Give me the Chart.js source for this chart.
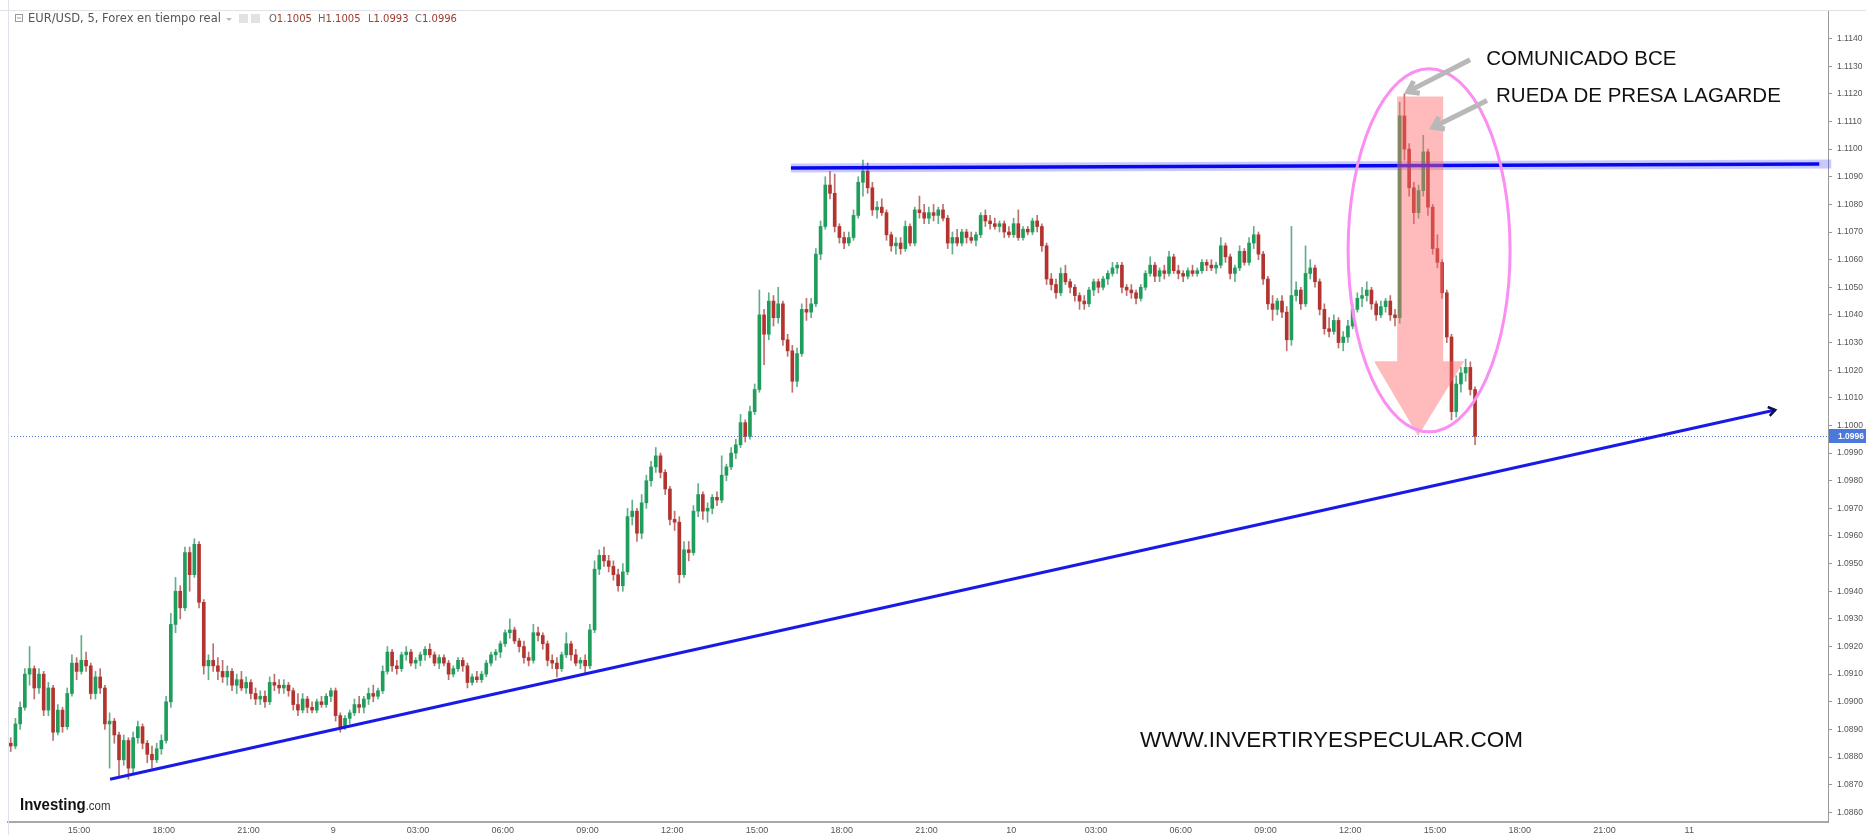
<!DOCTYPE html>
<html>
<head>
<meta charset="utf-8">
<title>EUR/USD, 5</title>
<script src="https://cdn.jsdelivr.net/npm/chart.js@4.4.1/dist/chart.umd.min.js"></script>
<style>
	html, body { margin: 0; padding: 0; background: #fff; overflow: hidden; }
	#chart { display: block; }
</style>
</head>
<body>
<canvas id="chart" width="1866" height="835"></canvas>
<script>
(function() {
	"use strict";

	// time axis is in hours from day 8, 00:00; one candle = 10 minutes
	var STEP = 10 / 60;
	var DAY8_START = 12.5;
	var DAY9_START = 24;
	var DAY10_START = 48;

	// [open, high, low, close]
	var day8 = [
		[1.0885,1.0887,1.0882,1.0884],[1.0884,1.0894,1.0883,1.0892],[1.0892,1.0900,1.0890,1.0898],
		[1.0898,1.0912,1.0897,1.0910],[1.0910,1.0920,1.0906,1.0912],[1.0912,1.0913,1.0901,1.0905],[1.0905,1.0912,1.0903,1.0910],[1.0910,1.0911,1.0895,1.0897],[1.0897,1.0907,1.0895,1.0905],
		[1.0905,1.0906,1.0886,1.0889],[1.0889,1.0899,1.0888,1.0897],[1.0897,1.0898,1.0889,1.0891],[1.0891,1.0905,1.0890,1.0903],[1.0903,1.0917,1.0902,1.0914],[1.0914,1.0916,1.0908,1.0911],
		[1.0911,1.0924,1.0910,1.0915],[1.0915,1.0918,1.0911,1.0913],[1.0913,1.0914,1.0901,1.0903],[1.0903,1.0911,1.0901,1.0909],[1.0909,1.0912,1.0903,1.0905],[1.0905,1.0906,1.0890,1.0892],
		[1.0892,1.0896,1.0876,1.0893],[1.0893,1.0894,1.0885,1.0888],[1.0888,1.0889,1.0873,1.0879],[1.0879,1.0888,1.0877,1.0886],[1.0886,1.0887,1.0872,1.0876],[1.0876,1.0889,1.0874,1.0887],
		[1.0887,1.0893,1.0885,1.0891],[1.0891,1.0892,1.0883,1.0885],[1.0885,1.0886,1.0878,1.0881],[1.0881,1.0884,1.0876,1.0879],[1.0879,1.0885,1.0878,1.0883],[1.0883,1.0888,1.0881,1.0886],
		[1.0886,1.0902,1.0885,1.0900],[1.0900,1.0932,1.0898,1.0928],[1.0928,1.0945,1.0925,1.0940],[1.0940,1.0942,1.0930,1.0934],[1.0934,1.0956,1.0933,1.0954],[1.0954,1.0956,1.0940,1.0946],
		[1.0946,1.0959,1.0945,1.0957],[1.0957,1.0958,1.0934,1.0936],[1.0936,1.0937,1.0910,1.0913],[1.0913,1.0917,1.0908,1.0915],[1.0915,1.0921,1.0911,1.0913],[1.0913,1.0916,1.0908,1.0911],
		[1.0911,1.0915,1.0907,1.0909],[1.0909,1.0913,1.0906,1.0911],[1.0911,1.0912,1.0904,1.0906],[1.0906,1.0910,1.0903,1.0908],[1.0908,1.0911,1.0904,1.0905],[1.0905,1.0909,1.0903,1.0907],
		[1.0907,1.0908,1.0901,1.0903],[1.0903,1.0905,1.0899,1.0901],[1.0901,1.0904,1.0899,1.0902],[1.0902,1.0904,1.0898,1.0900],[1.0900,1.0909,1.0899,1.0907],[1.0907,1.0910,1.0904,1.0906],
		[1.0906,1.0908,1.0903,1.0905],[1.0905,1.0908,1.0903,1.0906],[1.0906,1.0907,1.0902,1.0904],[1.0904,1.0905,1.0897,1.0899],[1.0899,1.0903,1.0895,1.0897],[1.0897,1.0903,1.0896,1.0901],
		[1.0901,1.0902,1.0896,1.0898],[1.0898,1.0900,1.0896,1.0897],[1.0897,1.0901,1.0896,1.0900],[1.0900,1.0902,1.0898,1.0899],[1.0899,1.0903,1.0898,1.0902],[1.0902,1.0905,1.0900,1.0904]
	];

	var day9 = [
		[1.0904,1.0905,1.0893,1.0895],[1.0895,1.0896,1.0889,1.0891],[1.0891,1.0895,1.0890,1.0894],[1.0894,1.0897,1.0892,1.0896],[1.0896,1.0901,1.0895,1.0899],[1.0899,1.0902,1.0896,1.0898],
		[1.0898,1.0902,1.0896,1.0901],[1.0901,1.0905,1.0899,1.0903],[1.0903,1.0906,1.0900,1.0902],[1.0902,1.0905,1.0901,1.0904],[1.0904,1.0913,1.0903,1.0911],[1.0911,1.0920,1.0910,1.0918],
		[1.0918,1.0919,1.0911,1.0913],[1.0913,1.0915,1.0910,1.0912],[1.0912,1.0918,1.0911,1.0917],[1.0917,1.0920,1.0915,1.0918],[1.0918,1.0919,1.0913,1.0914],[1.0914,1.0916,1.0912,1.0915],
		[1.0915,1.0918,1.0913,1.0917],[1.0917,1.0920,1.0915,1.0919],[1.0919,1.0921,1.0916,1.0917],[1.0917,1.0918,1.0913,1.0914],[1.0914,1.0917,1.0912,1.0916],[1.0916,1.0917,1.0913,1.0914],
		[1.0914,1.0915,1.0908,1.0910],[1.0910,1.0913,1.0909,1.0912],[1.0912,1.0916,1.0911,1.0915],[1.0915,1.0916,1.0911,1.0913],[1.0913,1.0914,1.0905,1.0907],[1.0907,1.0910,1.0906,1.0909],
		[1.0909,1.0911,1.0907,1.0908],[1.0908,1.0911,1.0907,1.0910],[1.0910,1.0915,1.0909,1.0914],[1.0914,1.0918,1.0913,1.0917],[1.0917,1.0919,1.0915,1.0918],[1.0918,1.0922,1.0916,1.0921],
		[1.0921,1.0926,1.0920,1.0925],[1.0925,1.0930,1.0923,1.0926],[1.0926,1.0927,1.0921,1.0922],[1.0922,1.0923,1.0918,1.0920],[1.0920,1.0922,1.0914,1.0916],[1.0916,1.0918,1.0913,1.0915],
		[1.0915,1.0928,1.0914,1.0925],[1.0925,1.0927,1.0922,1.0924],[1.0924,1.0925,1.0919,1.0921],[1.0921,1.0922,1.0913,1.0915],[1.0915,1.0917,1.0912,1.0914],[1.0914,1.0916,1.0909,1.0912],
		[1.0912,1.0918,1.0911,1.0917],[1.0917,1.0925,1.0916,1.0921],[1.0921,1.0922,1.0915,1.0917],[1.0917,1.0919,1.0913,1.0914],[1.0914,1.0916,1.0912,1.0915],[1.0915,1.0917,1.0910,1.0913],
		[1.0913,1.0928,1.0912,1.0926],[1.0926,1.0951,1.0925,1.0948],[1.0948,1.0955,1.0946,1.0953],[1.0953,1.0956,1.0949,1.0951],[1.0951,1.0953,1.0947,1.0949],[1.0949,1.0951,1.0944,1.0946],
		[1.0946,1.0948,1.0940,1.0942],[1.0942,1.0950,1.0940,1.0947],[1.0947,1.0970,1.0946,1.0967],[1.0967,1.0973,1.0964,1.0969],[1.0969,1.0970,1.0958,1.0961],[1.0961,1.0975,1.0959,1.0972],
		[1.0972,1.0982,1.0970,1.0980],[1.0980,1.0987,1.0978,1.0985],[1.0985,1.0992,1.0983,1.0989],[1.0989,1.0990,1.0981,1.0983],[1.0983,1.0984,1.0975,1.0977],[1.0977,1.0978,1.0964,1.0966],
		[1.0966,1.0969,1.0962,1.0965],[1.0965,1.0967,1.0943,1.0946],[1.0946,1.0958,1.0945,1.0955],[1.0955,1.0958,1.0951,1.0954],[1.0954,1.0971,1.0953,1.0969],[1.0969,1.0979,1.0967,1.0975],
		[1.0975,1.0976,1.0966,1.0969],[1.0969,1.0972,1.0965,1.0970],[1.0970,1.0975,1.0968,1.0974],[1.0974,1.0976,1.0971,1.0973],[1.0973,1.0989,1.0972,1.0982],[1.0982,1.0986,1.0980,1.0985],
		[1.0985,1.0992,1.0984,1.0990],[1.0990,1.0995,1.0988,1.0993],[1.0993,1.1004,1.0992,1.1001],[1.1001,1.1002,1.0994,1.0996],[1.0996,1.1007,1.0995,1.1005],[1.1005,1.1015,1.1004,1.1013],
		[1.1013,1.1049,1.1012,1.1040],[1.1040,1.1042,1.1022,1.1033],[1.1033,1.1048,1.1031,1.1045],[1.1045,1.1047,1.1036,1.1039],[1.1039,1.1050,1.1037,1.1044],[1.1044,1.1045,1.1029,1.1031],
		[1.1031,1.1033,1.1025,1.1027],[1.1027,1.1029,1.1012,1.1016],[1.1016,1.1028,1.1014,1.1026],[1.1026,1.1044,1.1025,1.1042],[1.1042,1.1046,1.1038,1.1041],[1.1041,1.1046,1.1039,1.1044],
		[1.1044,1.1064,1.1043,1.1062],[1.1062,1.1074,1.1060,1.1072],[1.1072,1.1090,1.1071,1.1087],[1.1087,1.1092,1.1082,1.1084],[1.1084,1.1091,1.1070,1.1072],[1.1072,1.1073,1.1066,1.1068],
		[1.1068,1.1070,1.1064,1.1066],[1.1066,1.1070,1.1065,1.1068],[1.1068,1.1078,1.1067,1.1076],[1.1076,1.1090,1.1075,1.1088],[1.1088,1.1096,1.1083,1.1092],[1.1092,1.1095,1.1084,1.1086],
		[1.1086,1.1088,1.1076,1.1078],[1.1078,1.1081,1.1075,1.1079],[1.1079,1.1082,1.1076,1.1077],[1.1077,1.1078,1.1067,1.1069],[1.1069,1.1070,1.1063,1.1065],[1.1065,1.1068,1.1062,1.1066],
		[1.1066,1.1068,1.1062,1.1064],[1.1064,1.1074,1.1063,1.1072],[1.1072,1.1073,1.1065,1.1066],[1.1066,1.1079,1.1065,1.1078],[1.1078,1.1083,1.1075,1.1077],[1.1077,1.1080,1.1073,1.1075],
		[1.1075,1.1079,1.1073,1.1077],[1.1077,1.1080,1.1074,1.1076],[1.1076,1.1079,1.1073,1.1078],[1.1078,1.1080,1.1074,1.1075],[1.1075,1.1076,1.1064,1.1066],[1.1066,1.1070,1.1062,1.1068],
		[1.1068,1.1071,1.1065,1.1066],[1.1066,1.1071,1.1065,1.1070],[1.1070,1.1071,1.1066,1.1068],[1.1068,1.1070,1.1066,1.1067],[1.1067,1.1070,1.1065,1.1069],[1.1069,1.1077,1.1068,1.1076],
		[1.1076,1.1078,1.1072,1.1074],[1.1074,1.1076,1.1071,1.1073],[1.1073,1.1075,1.1071,1.1072],[1.1072,1.1074,1.1070,1.1073],[1.1073,1.1074,1.1068,1.1070],[1.1070,1.1072,1.1068,1.1069]
	];

	var day10 = [
		[1.1069,1.1075,1.1068,1.1073],[1.1073,1.1078,1.1067,1.1068],[1.1068,1.1072,1.1067,1.1071],[1.1071,1.1072,1.1069,1.1070],[1.1070,1.1075,1.1069,1.1074],[1.1074,1.1076,1.1070,1.1072],
		[1.1072,1.1073,1.1063,1.1065],[1.1065,1.1066,1.1051,1.1053],[1.1053,1.1055,1.1049,1.1051],[1.1051,1.1053,1.1046,1.1048],[1.1048,1.1057,1.1047,1.1055],[1.1055,1.1058,1.1051,1.1052],
		[1.1052,1.1053,1.1048,1.1050],[1.1050,1.1051,1.1045,1.1047],[1.1047,1.1048,1.1042,1.1045],[1.1045,1.1047,1.1042,1.1044],[1.1044,1.1050,1.1043,1.1049],[1.1049,1.1053,1.1047,1.1052],
		[1.1052,1.1053,1.1048,1.1050],[1.1050,1.1054,1.1049,1.1053],[1.1053,1.1056,1.1051,1.1055],[1.1055,1.1059,1.1054,1.1057],[1.1057,1.1059,1.1055,1.1058],[1.1058,1.1059,1.1048,1.1050],
		[1.1050,1.1051,1.1047,1.1049],[1.1049,1.1051,1.1046,1.1048],[1.1048,1.1049,1.1044,1.1046],[1.1046,1.1051,1.1045,1.1050],[1.1050,1.1056,1.1049,1.1055],[1.1055,1.1061,1.1054,1.1058],
		[1.1058,1.1059,1.1052,1.1054],[1.1054,1.1057,1.1052,1.1056],[1.1056,1.1058,1.1053,1.1055],[1.1055,1.1063,1.1054,1.1061],[1.1061,1.1062,1.1055,1.1056],[1.1056,1.1058,1.1053,1.1055],
		[1.1055,1.1056,1.1052,1.1054],[1.1054,1.1057,1.1053,1.1056],[1.1056,1.1058,1.1054,1.1055],[1.1055,1.1057,1.1054,1.1056],[1.1056,1.1060,1.1055,1.1059],[1.1059,1.1060,1.1056,1.1058],
		[1.1058,1.1060,1.1056,1.1057],[1.1057,1.1059,1.1055,1.1058],[1.1058,1.1068,1.1057,1.1065],[1.1065,1.1066,1.1059,1.1061],[1.1061,1.1062,1.1053,1.1055],[1.1055,1.1058,1.1052,1.1057],
		[1.1057,1.1065,1.1056,1.1063],[1.1063,1.1064,1.1058,1.1059],[1.1059,1.1068,1.1058,1.1066],[1.1066,1.1072,1.1064,1.1069],[1.1069,1.1070,1.1060,1.1062],[1.1062,1.1063,1.1051,1.1053],
		[1.1053,1.1054,1.1042,1.1044],[1.1044,1.1047,1.1038,1.1042],[1.1042,1.1046,1.1040,1.1045],[1.1045,1.1047,1.1039,1.1041],[1.1041,1.1043,1.1027,1.1031],[1.1031,1.1072,1.1029,1.1047],
		[1.1047,1.1052,1.1045,1.1049],[1.1049,1.1050,1.1042,1.1044],[1.1044,1.1065,1.1043,1.1055],[1.1055,1.1060,1.1053,1.1057],[1.1057,1.1058,1.1050,1.1052],[1.1052,1.1053,1.1040,1.1042],
		[1.1042,1.1044,1.1033,1.1035],[1.1035,1.1039,1.1032,1.1034],[1.1034,1.1040,1.1033,1.1038],[1.1038,1.1039,1.1028,1.1030],[1.1030,1.1034,1.1027,1.1032],[1.1032,1.1038,1.1030,1.1036],
		[1.1036,1.1044,1.1035,1.1042],[1.1042,1.1048,1.1041,1.1046],[1.1046,1.1050,1.1043,1.1047],[1.1047,1.1052,1.1045,1.1049],[1.1049,1.1050,1.1042,1.1044],[1.1044,1.1045,1.1038,1.1040],
		[1.1040,1.1045,1.1039,1.1043],[1.1043,1.1046,1.1041,1.1045],[1.1045,1.1047,1.1038,1.1040],[1.1040,1.1042,1.1036,1.1039],[1.1039,1.1117,1.1037,1.1112],[1.1112,1.1120,1.1096,1.1100],
		[1.1100,1.1102,1.1083,1.1086],[1.1086,1.1088,1.1073,1.1077],[1.1077,1.1087,1.1075,1.1085],[1.1085,1.1105,1.1083,1.1099],[1.1099,1.1100,1.1076,1.1079],[1.1079,1.1080,1.1062,1.1064],
		[1.1064,1.1069,1.1057,1.1059],[1.1059,1.1060,1.1046,1.1048],[1.1048,1.1049,1.1030,1.1032],[1.1032,1.1033,1.1002,1.1005],[1.1005,1.1018,1.1003,1.1015],[1.1015,1.1021,1.1012,1.1019],
		[1.1019,1.1024,1.1016,1.1021],[1.1021,1.1023,1.1011,1.1013],[1.1013,1.1014,1.0993,1.0996]
	];

	var xTickPos = [15, 18, 21, 24, 27, 30, 33, 36, 39, 42, 45, 48, 51, 54, 57, 60, 63, 66, 69, 72];
	var xTickLabels = ["15:00", "18:00", "21:00", "9", "03:00", "06:00", "09:00", "12:00", "15:00", "18:00", "21:00",
		"10", "03:00", "06:00", "09:00", "12:00", "15:00", "18:00", "21:00", "11"];
	var yTicks = [1.0860, 1.0870, 1.0880, 1.0890, 1.0900, 1.0910, 1.0920, 1.0930, 1.0940, 1.0950,
		1.0960, 1.0970, 1.0980, 1.0990, 1.1000, 1.1010, 1.1020, 1.1030, 1.1040, 1.1050,
		1.1060, 1.1070, 1.1080, 1.1090, 1.1100, 1.1110, 1.1120, 1.1130, 1.1140];

	var X_MIN = 12.487, X_MAX = 76.91;
	var Y_MIN = 1.08565, Y_MAX = 1.11503;

	// drawings on the chart, in [hours, price]
	var resistance = [[40.2, 1.10932], [76.6, 1.10946]];
	var trendLine = [[16.10, 1.08720], [75.04, 1.10056]];
	var ellipse = { center: [62.79, 1.10634], rx: 2.867, ry: 0.00657 };
	var bigArrow = { left: 61.66, right: 63.29, top: 1.11190, neck: 1.10232, headLeft: 60.84, headRight: 64.03, tip: [62.40, 1.09962] };
	var greyArrows = [
		[[64.24, 1.11323], [62.04, 1.11208]],
		[[64.84, 1.11176], [62.93, 1.11079]]
	];
	var notes = [
		["COMUNICADO BCE", 64.81, 1.11323],
		["RUEDA DE PRESA LAGARDE", 65.16, 1.11190]
	];
	var watermark = ["WWW.INVERTIRYESPECULAR.COM", 52.56, 1.0886];

	var UP = "#1f9d5c", DOWN = "#b3342e";
	var UP_WICK = "rgba(31,140,85,0.7)", DOWN_WICK = "rgba(160,50,45,0.7)";

	function buildCandles() {
		var out = [];
		[[day8, DAY8_START], [day9, DAY9_START], [day10, DAY10_START]].forEach(function(d) {
			d[0].forEach(function(c, i) {
				out.push({ t: d[1] + i * STEP + STEP / 2, o: c[0], h: c[1], l: c[2], c: c[3] });
			});
		});
		return out;
	}

	function headV(ctx, x0, y0, x1, y1, size) {
		var a = Math.atan2(y1 - y0, x1 - x0);
		ctx.beginPath();
		ctx.moveTo(x1 - size * Math.cos(a - 0.6), y1 - size * Math.sin(a - 0.6));
		ctx.lineTo(x1, y1);
		ctx.lineTo(x1 - size * Math.cos(a + 0.6), y1 - size * Math.sin(a + 0.6));
		ctx.stroke();
	}

	var overlay = {
		id: "overlay",
		afterDatasetsDraw: function(chart) {
			var ctx = chart.ctx, xs = chart.scales.x, ys = chart.scales.y;
			function X(t) { return xs.getPixelForValue(t); }
			function Y(p) { return ys.getPixelForValue(p); }
			var area = chart.chartArea;
			ctx.save();

			// last price, dotted
			var last = day10[day10.length - 1][3];
			ctx.strokeStyle = "#4f74dc";
			ctx.lineWidth = 1;
			ctx.setLineDash([1, 2]);
			ctx.beginPath();
			ctx.moveTo(area.left, Math.round(Y(last)) + 0.5);
			ctx.lineTo(area.right, Math.round(Y(last)) + 0.5);
			ctx.stroke();
			ctx.setLineDash([]);

			// resistance
			ctx.lineCap = "butt";
			ctx.strokeStyle = "rgba(60,60,255,0.28)";
			ctx.lineWidth = 9;
			ctx.beginPath();
			ctx.moveTo(X(resistance[0][0]), Y(resistance[0][1]));
			ctx.lineTo(X(resistance[1][0]) + 12, Y(resistance[1][1]));
			ctx.stroke();
			ctx.strokeStyle = "#0808ee";
			ctx.lineWidth = 3.5;
			ctx.beginPath();
			ctx.moveTo(X(resistance[0][0]), Y(resistance[0][1]));
			ctx.lineTo(X(resistance[1][0]), Y(resistance[1][1]));
			ctx.stroke();

			// rising trend line
			var tx0 = X(trendLine[0][0]), ty0 = Y(trendLine[0][1]);
			var tx1 = X(trendLine[1][0]), ty1 = Y(trendLine[1][1]);
			ctx.strokeStyle = "#1a1ae6";
			ctx.lineWidth = 3;
			ctx.beginPath();
			ctx.moveTo(tx0, ty0);
			ctx.lineTo(tx1, ty1);
			ctx.stroke();
			ctx.strokeStyle = "#10104a";
			ctx.lineWidth = 2.5;
			headV(ctx, tx0, ty0, tx1, ty1, 8);

			// big translucent arrow
			ctx.fillStyle = "rgba(255,105,105,0.45)";
			ctx.beginPath();
			ctx.moveTo(X(bigArrow.left), Y(bigArrow.top));
			ctx.lineTo(X(bigArrow.right), Y(bigArrow.top));
			ctx.lineTo(X(bigArrow.right), Y(bigArrow.neck));
			ctx.lineTo(X(bigArrow.headRight), Y(bigArrow.neck));
			ctx.lineTo(X(bigArrow.tip[0]), Y(bigArrow.tip[1]));
			ctx.lineTo(X(bigArrow.headLeft), Y(bigArrow.neck));
			ctx.lineTo(X(bigArrow.left), Y(bigArrow.neck));
			ctx.closePath();
			ctx.fill();

			// ellipse
			var cx = X(ellipse.center[0]), cy = Y(ellipse.center[1]);
			ctx.strokeStyle = "#fa8ef2";
			ctx.lineWidth = 3;
			ctx.beginPath();
			ctx.ellipse(cx, cy, X(ellipse.center[0] + ellipse.rx) - cx, cy - Y(ellipse.center[1] + ellipse.ry), 0, 0, Math.PI * 2);
			ctx.stroke();

			// grey pointers
			ctx.strokeStyle = "#b8b8b8";
			ctx.lineWidth = 5;
			ctx.lineCap = "butt";
			greyArrows.forEach(function(a) {
				var x0 = X(a[0][0]), y0 = Y(a[0][1]), x1 = X(a[1][0]), y1 = Y(a[1][1]);
				ctx.beginPath();
				ctx.moveTo(x0, y0);
				ctx.lineTo(x1, y1);
				ctx.stroke();
				headV(ctx, x0, y0, x1, y1, 12);
			});

			// texts
			ctx.fillStyle = "#111";
			ctx.textBaseline = "middle";
			ctx.textAlign = "left";
			ctx.font = "20.5px 'Liberation Sans', Arial, sans-serif";
			notes.forEach(function(n) {
				ctx.fillText(n[0], X(n[1]), Y(n[2]));
			});
			ctx.font = "22.5px 'Liberation Sans', Arial, sans-serif";
			ctx.fillText(watermark[0], X(watermark[1]), Y(watermark[2]));
			ctx.restore();
		},
		afterDraw: function(chart) {
			var ctx = chart.ctx, area = chart.chartArea, ys = chart.scales.y;
			ctx.save();

			// frame
			ctx.strokeStyle = "#dfe2ea";
			ctx.lineWidth = 1;
			ctx.beginPath();
			ctx.moveTo(area.left + 0.5, 0);
			ctx.lineTo(area.left + 0.5, chart.height);
			ctx.moveTo(0, area.top + 0.5);
			ctx.lineTo(chart.width, area.top + 0.5);
			ctx.stroke();

			// last price tag
			var last = day10[day10.length - 1][3];
			var py = Math.round(ys.getPixelForValue(last));
			ctx.fillStyle = "#4a78dc";
			ctx.fillRect(area.right + 1, py - 7, chart.width - area.right - 1, 14);
			ctx.fillStyle = "#fff";
			ctx.font = "bold 8.5px 'Liberation Sans', Arial, sans-serif";
			ctx.textBaseline = "middle";
			ctx.fillText(last.toFixed(4), area.right + 10, py + 0.5);

			// legend line at the top
			ctx.strokeStyle = "#999";
			ctx.strokeRect(15.5, 14.5, 7, 7);
			ctx.beginPath();
			ctx.moveTo(17, 18);
			ctx.lineTo(21, 18);
			ctx.stroke();
			ctx.font = "11.5px 'DejaVu Sans', Verdana, sans-serif";
			ctx.fillStyle = "#555";
			ctx.fillText("EUR/USD, 5, Forex en tiempo real", 28, 19);
			ctx.fillStyle = "#bbb";
			ctx.beginPath();
			ctx.moveTo(226, 18);
			ctx.lineTo(232, 18);
			ctx.lineTo(229, 21);
			ctx.closePath();
			ctx.fill();
			ctx.fillStyle = "#e2e2e2";
			ctx.fillRect(239, 14, 9, 9);
			ctx.fillRect(251, 14, 9, 9);
			var ohlc = [["O", "1.1005", 269], ["H", "1.1005", 318], ["L", "1.0993", 368], ["C", "1.0996", 415]];
			ctx.font = "10px 'DejaVu Sans', Verdana, sans-serif";
			ohlc.forEach(function(v) {
				ctx.fillStyle = "#666";
				ctx.fillText(v[0], v[2], 19);
				ctx.fillStyle = "#9c3a2c";
				ctx.fillText(v[1], v[2] + ctx.measureText(v[0]).width, 19);
			});

			// logo
			ctx.fillStyle = "#111";
			ctx.textBaseline = "alphabetic";
			ctx.save();
			ctx.translate(20, 810);
			ctx.scale(0.88, 1);
			ctx.font = "bold 17px 'Liberation Sans', Arial, sans-serif";
			ctx.fillText("Investing", 0, 0);
			var w = ctx.measureText("Investing").width;
			ctx.font = "13px 'Liberation Sans', Arial, sans-serif";
			ctx.fillStyle = "#333";
			ctx.fillText(".com", w, 0);
			ctx.restore();
			ctx.restore();
		}
	};

	document.addEventListener("DOMContentLoaded", function() {
		var candles = buildCandles();
		var bodyColors = candles.map(function(c) { return c.c >= c.o ? UP : DOWN; });
		var wickColors = candles.map(function(c) { return c.c >= c.o ? UP_WICK : DOWN_WICK; });

		var ctx = document.getElementById("chart").getContext("2d");
		Chart.defaults.font.family = "'Liberation Sans', Arial, sans-serif";

		new Chart(ctx, {
			type: "bar",
			data: {
				datasets: [{
					label: "body",
					data: candles.map(function(c) { return { x: c.t, y: [c.o, c.c] }; }),
					backgroundColor: bodyColors,
					barThickness: 3,
					minBarLength: 1,
					grouped: false
				}, {
					label: "wick",
					data: candles.map(function(c) { return { x: c.t, y: [c.l, c.h] }; }),
					backgroundColor: wickColors,
					barThickness: 1,
					grouped: false
				}]
			},
			options: {
				responsive: false,
				animation: false,
				devicePixelRatio: 1,
				layout: { padding: { left: 8, top: 4, right: 0, bottom: 0 } },
				plugins: { legend: { display: false }, tooltip: { enabled: false } },
				scales: {
					x: {
						type: "linear",
						min: X_MIN,
						max: X_MAX,
						offset: false,
						grid: { display: false, drawTicks: false, offset: false },
						border: { display: true, color: "#a8a8a8", width: 2 },
						ticks: {
							autoSkip: false,
							maxRotation: 0,
							padding: 3,
							color: "#555",
							font: { size: 9 },
							callback: function(v) { return xTickLabels[xTickPos.indexOf(v)]; }
						},
						afterBuildTicks: function(s) { s.ticks = xTickPos.map(function(v) { return { value: v }; }); },
						afterFit: function(s) { s.height = 13; }
					},
					y: {
						position: "right",
						min: Y_MIN,
						max: Y_MAX,
						beginAtZero: false,
						grid: { drawOnChartArea: false, drawTicks: true, tickLength: 4, color: "#999" },
						border: { display: true, color: "#999", width: 1 },
						ticks: {
							autoSkip: false,
							padding: 5,
							color: "#555",
							font: { size: 8.5 },
							callback: function(v) { return v.toFixed(4); }
						},
						afterBuildTicks: function(s) { s.ticks = yTicks.map(function(v) { return { value: v }; }); },
						afterFit: function(s) { s.width = 38; }
					}
				}
			},
			plugins: [overlay]
		});
	});
}) ();
</script>
</body>
</html>
